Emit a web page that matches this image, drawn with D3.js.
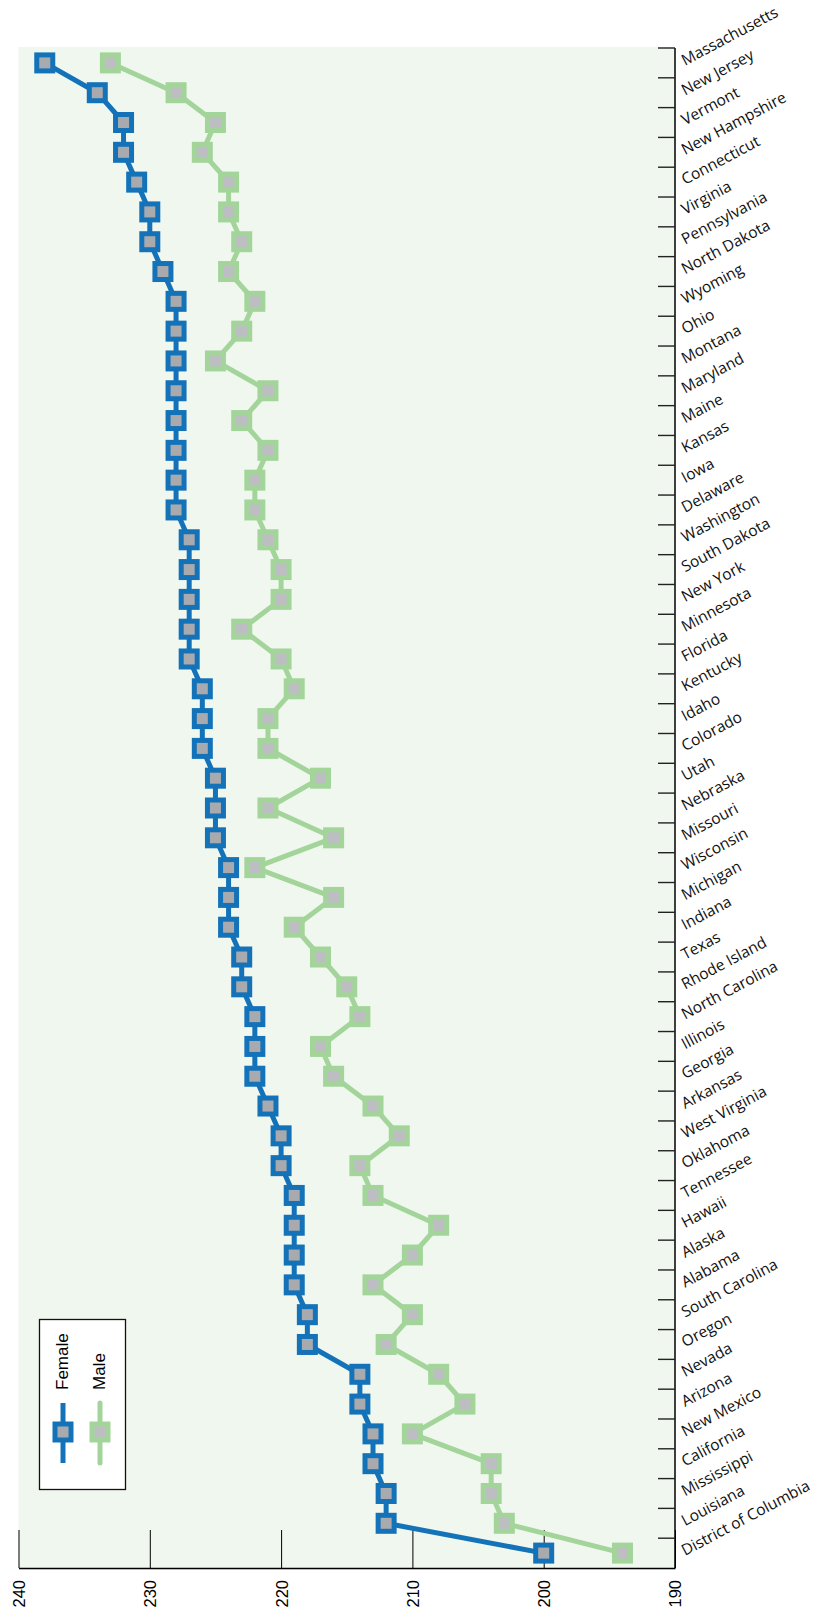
<!DOCTYPE html>
<html>
<head>
<meta charset="utf-8">
<script src="https://cdn.jsdelivr.net/npm/d3@7"></script>
<style>
  body { margin: 0; background: #fff; }
  svg { display: block; }
</style>
</head>
<body>
<div id="chart"></div>
<script>
var states = ["Massachusetts", "New Jersey", "Vermont", "New Hampshire", "Connecticut",
  "Virginia", "Pennsylvania", "North Dakota", "Wyoming", "Ohio", "Montana", "Maryland",
  "Maine", "Kansas", "Iowa", "Delaware", "Washington", "South Dakota", "New York",
  "Minnesota", "Florida", "Kentucky", "Idaho", "Colorado", "Utah", "Nebraska", "Missouri",
  "Wisconsin", "Michigan", "Indiana", "Texas", "Rhode Island", "North Carolina", "Illinois",
  "Georgia", "Arkansas", "West Virginia", "Oklahoma", "Tennessee", "Hawaii", "Alaska",
  "Alabama", "South Carolina", "Oregon", "Nevada", "Arizona", "New Mexico", "California",
  "Mississippi", "Louisiana", "District of Columbia"];

var female = [238, 234, 232, 232, 231, 230, 230, 229, 228, 228, 228, 228, 228, 228, 228, 228,
  227, 227, 227, 227, 227, 226, 226, 226, 225, 225, 225, 224, 224, 224, 223, 223, 222, 222,
  222, 221, 220, 220, 219, 219, 219, 219, 218, 218, 214, 214, 213, 213, 212, 212, 200];

var male = [233, 228, 225, 226, 224, 224, 223, 224, 222, 223, 225, 221, 223, 221, 222, 222,
  221, 220, 220, 223, 220, 219, 221, 221, 217, 221, 216, 222, 216, 219, 217, 215, 214, 217,
  216, 213, 211, 214, 213, 208, 210, 213, 210, 212, 208, 206, 210, 204, 204, 203, 194];

var valueTicks = [240, 230, 220, 210, 200, 190];

var series = [
  {name: "Female", values: female, color: "#1472b9", inner: "#a9aaae"},
  {name: "Male", values: male, color: "#a3d59b", inner: "#bdbec2"}
];

var W = 826, H = 1610;
var plot = {left: 18.5, right: 675, top: 48, bottom: 1568};

var svg = d3.select("#chart").append("svg")
  .attr("width", W)
  .attr("height", H);

var x = d3.scaleLinear().domain([240, 190]).range([plot.left, plot.right]);
var y = d3.scaleBand().domain(states).range([plot.top, plot.bottom]);
var bw = y.bandwidth();

// plot background
svg.append("rect")
  .attr("x", plot.left)
  .attr("y", plot.top - 1)
  .attr("width", plot.right - plot.left)
  .attr("height", plot.bottom - plot.top + 3)
  .attr("fill", "#f0f7ee");

// bottom (value) axis, ticks pointing up
var xAxis = svg.append("g")
  .attr("transform", "translate(0," + plot.bottom + ")")
  .call(d3.axisBottom(x).tickValues(valueTicks).tickSizeInner(-38).tickSizeOuter(0));

xAxis.select(".domain").attr("stroke", "#000").attr("stroke-width", 1.5);
xAxis.selectAll(".tick line").attr("stroke", "#000").attr("stroke-width", 1);
xAxis.selectAll(".tick text")
  .attr("transform", "rotate(-90)")
  .attr("x", -12)
  .attr("y", 0)
  .attr("dy", "0.36em")
  .attr("text-anchor", "end")
  .attr("fill", "#000")
  .style("font-family", "'Liberation Sans', Arial, sans-serif")
  .style("font-size", "16.5px");

// right (state) axis
svg.append("line")
  .attr("x1", plot.right).attr("x2", plot.right)
  .attr("y1", plot.top).attr("y2", plot.bottom)
  .attr("stroke", "#000")
  .attr("stroke-width", 1.5);

svg.append("g").selectAll("line")
  .data(states)
  .enter().append("line")
  .attr("x1", plot.right - 17).attr("x2", plot.right)
  .attr("y1", function(d) { return y(d); })
  .attr("y2", function(d) { return y(d); })
  .attr("stroke", "#222")
  .attr("stroke-width", 1.4);

svg.append("g").selectAll("text")
  .data(states)
  .enter().append("text")
  .attr("transform", function(d) {
    return "translate(" + (plot.right + 10) + "," + (y(d) + bw / 2 + 3) + ") rotate(-28)";
  })
  .attr("text-anchor", "start")
  .attr("fill", "#111")
  .style("font-family", "'Open Sans', 'Noto Sans', sans-serif")
  .style("font-size", "15.5px")
  .text(function(d) { return d; });

// lines and markers
var line = d3.line()
  .x(function(d) { return x(d); })
  .y(function(d, i) { return y(states[i]) + bw / 2; });

series.forEach(function(s) {
  svg.append("path")
    .attr("d", line(s.values))
    .attr("fill", "none")
    .attr("stroke", s.color)
    .attr("stroke-width", 5)
    .attr("stroke-linejoin", "round");
});

series.forEach(function(s) {
  svg.append("g").selectAll("rect")
    .data(s.values)
    .enter().append("rect")
    .attr("x", function(d) { return x(d) - 8; })
    .attr("y", function(d, i) { return y(states[i]) + bw / 2 - 8; })
    .attr("width", 16)
    .attr("height", 16)
    .attr("fill", s.inner)
    .attr("stroke", s.color)
    .attr("stroke-width", 5);
});

// legend
var legend = svg.append("g");
legend.append("rect")
  .attr("x", 39.5).attr("y", 1319.5)
  .attr("width", 86).attr("height", 170)
  .attr("fill", "#fff")
  .attr("stroke", "#111")
  .attr("stroke-width", 1.3);

var legendX = [63, 100];
series.forEach(function(s, i) {
  var cx = legendX[i];
  legend.append("line")
    .attr("x1", cx).attr("x2", cx)
    .attr("y1", 1403).attr("y2", 1463)
    .attr("stroke", s.color)
    .attr("stroke-width", 5)
    .attr("stroke-linecap", i === 0 ? "butt" : "round");
  legend.append("rect")
    .attr("x", cx - 8).attr("y", 1432 - 8)
    .attr("width", 16).attr("height", 16)
    .attr("fill", s.inner)
    .attr("stroke", s.color)
    .attr("stroke-width", 5);
  legend.append("text")
    .attr("transform", "translate(" + (cx - 1) + ",1390) rotate(-90)")
    .attr("dy", "0.36em")
    .attr("text-anchor", "start")
    .attr("fill", "#000")
    .style("font-family", "'Liberation Sans', Arial, sans-serif")
    .style("font-size", "17px")
    .text(s.name);
});
</script>
</body>
</html>
